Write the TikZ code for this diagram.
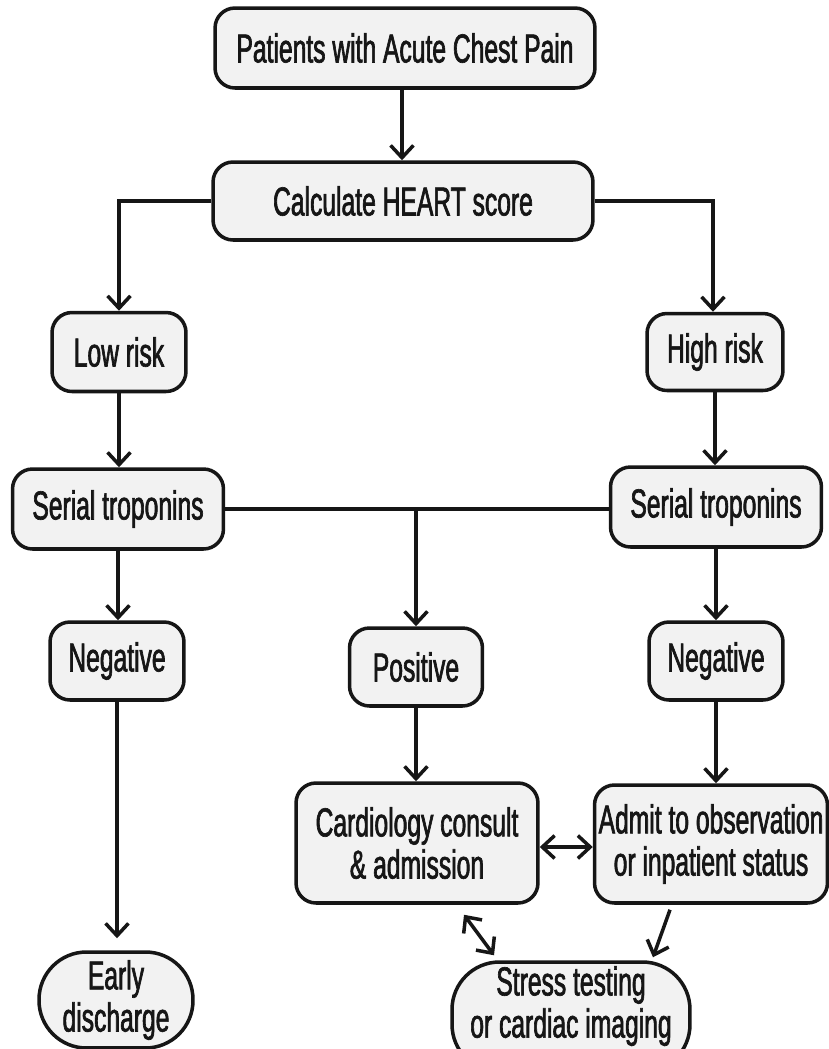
\documentclass[tikz,border=0pt]{standalone}
\usepackage{fontspec}
\setmainfont[FakeStretch=0.61,FakeBold=1.6]{Liberation Sans}
\usepackage{tikz}
\usetikzlibrary{positioning}
\usetikzlibrary{arrows.meta}

\definecolor{boxfill}{HTML}{F2F2F2}
\definecolor{ink}{HTML}{161616}

\begin{document}
\begin{tikzpicture}[x=0.02cm,y=-0.02cm,
    box/.style={draw=ink, fill=boxfill, line width=2pt, rounded corners=0.4cm,
      align=center, text=ink, inner sep=0pt, font=\fontsize{23}{27}\selectfont},
    pill/.style={box, rounded corners=0.95cm},
    link/.style={draw=ink, line width=2pt},
    arr/.style={link, -{Straight Barb[length=7pt,width=13pt,line width=2pt]}},
    darr/.style={link, {Straight Barb[length=7pt,width=13pt,line width=2pt]}-{Straight Barb[length=7pt,width=13pt,line width=2pt]}}]
    \useasboundingbox (0,0) rectangle (829,1049);
    \node[box, minimum width=7.6cm, minimum height=1.6cm] (pat) at (405,48) {Patients with Acute Chest Pain};
    \node[box, minimum width=7.6cm, minimum height=1.56cm] (heart) at (403,201) {Calculate HEART score};
    \node[box, minimum width=2.68cm, minimum height=1.58cm] (low) at (119,352) {Low risk};
    \node[box, minimum width=2.72cm, minimum height=1.54cm] (high) at (715,352) {High risk};
    \node[box, minimum width=4.22cm, minimum height=1.6cm] (serl) at (118,509) {Serial troponins};
    \node[box, minimum width=4.22cm, minimum height=1.6cm] (serr) at (716,507) {Serial troponins};
    \node[box, minimum width=2.68cm, minimum height=1.56cm] (negl) at (117,661) {Negative};
    \node[box, minimum width=2.66cm, minimum height=1.56cm] (pos) at (416,667) {Positive};
    \node[box, minimum width=2.68cm, minimum height=1.56cm] (negr) at (716,661) {Negative};
    \node[box, minimum width=4.84cm, minimum height=2.4cm, font=\fontsize{23}{24}\selectfont] (card) at (417,843) {Cardiology consult\\\& admission};
    \node[box, minimum width=4.66cm, minimum height=2.36cm, font=\fontsize{23}{24}\selectfont] (admit) at (711,844) {Admit to observation\\or inpatient status};
    \node[pill, minimum width=4.76cm, minimum height=2.2cm, font=\fontsize{23}{27}\selectfont] (stress) at (571,1017) {\raisebox{0.2cm}[\height][\depth]{\begin{tabular}{@{}c@{}}Stress testing\\[-3pt]or cardiac imaging\end{tabular}}};
    \node[pill, minimum width=3.08cm, minimum height=1.92cm, font=\fontsize{23}{24}\selectfont] (early) at (116,1000) {Early\\discharge};
    \coordinate (split) at (pos.north |- serl.east);

    \draw[arr] (pat.south -| 402,0) -- (heart.north -| 402,0);
    \draw[arr] (heart.west) -| (low.north);
    \draw[arr] (heart.east) -| (713,0 |- high.north);
    \draw[arr] (low.south) -- (low.south |- serl.north);
    \draw[arr] (high.south) -- (high.south |- serr.north);
    \draw[arr] (serl.south) -- (serl.south |- negl.north);
    \draw[arr] (serr.south) -- (serr.south |- negr.north);
    \draw[link] (serl.east) -- (serl.east -| serr.west);
    \draw[arr] (split) -- (pos.north);
    \draw[arr] (pos.south) -- (pos.south |- card.north);
    \draw[arr] (negr.south) -- (negr.south |- admit.north);
    \draw[arr, shorten >=12*0.02cm] (negl.south) -- (negl.south |- early.north);
    \draw[darr] (card.east |- 0,847) -- (admit.west |- 0,847);
    \draw[darr] ([shift={(47,10)}]card.south) -- ([shift={(-77,-5)}]stress.north);
    \draw[arr] ([shift={(-41,5)}]admit.south) -- ([shift={(82,-3)}]stress.north);
\end{tikzpicture}
\end{document}
